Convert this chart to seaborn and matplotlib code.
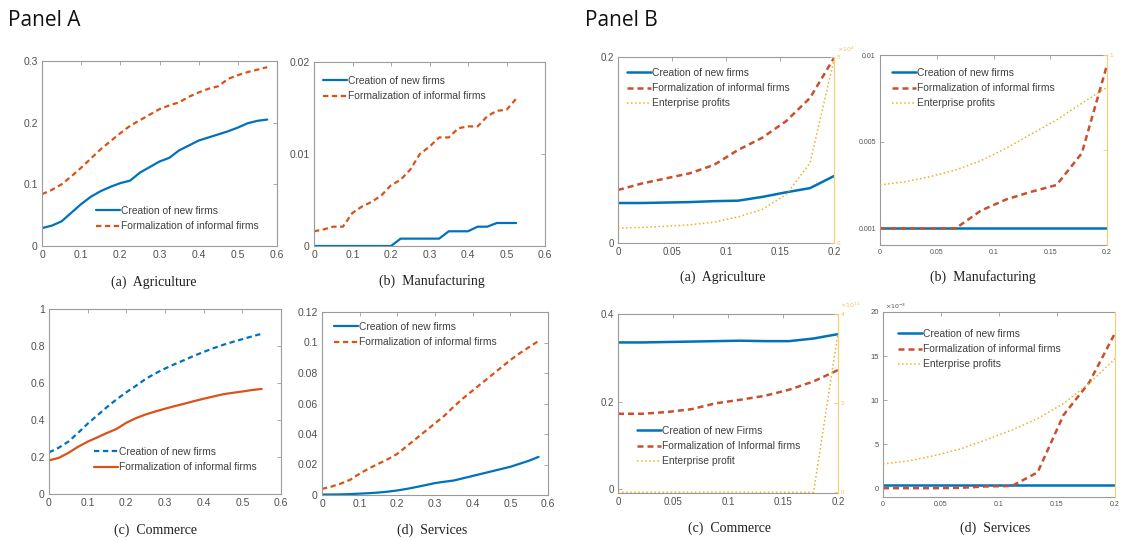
import matplotlib
matplotlib.use('Agg')
import matplotlib.pyplot as plt
import matplotlib.ticker as mticker
import seaborn as sns

# ---- Panel A data (x = policy intensity) ----
x_a = [0.0, 0.025, 0.05, 0.075, 0.1, 0.125, 0.15, 0.175, 0.2, 0.225, 0.25, 0.275,
       0.3, 0.325, 0.35, 0.375, 0.4, 0.425, 0.45, 0.475, 0.5, 0.525, 0.55, 0.575]

agri_creation = [0.029, 0.033, 0.040, 0.054, 0.068, 0.080, 0.089, 0.096, 0.102, 0.106, 0.119, 0.128,
                 0.137, 0.143, 0.155, 0.163, 0.171, 0.176, 0.181, 0.186, 0.192, 0.199, 0.203, 0.205]
agri_formal = [0.084, 0.091, 0.100, 0.113, 0.127, 0.142, 0.157, 0.170, 0.183, 0.195, 0.204, 0.213,
               0.222, 0.228, 0.233, 0.242, 0.249, 0.255, 0.259, 0.271, 0.277, 0.282, 0.286, 0.290]

manu_creation = [0, 0, 0, 0, 0, 0, 0, 0, 0, 0.0008, 0.0008, 0.0008,
                 0.0008, 0.0008, 0.0016, 0.0016, 0.0016, 0.0021, 0.0021, 0.0025, 0.0025, 0.0025]
manu_formal = [0.0016, 0.0018, 0.0021, 0.0021, 0.0036, 0.0043, 0.0048, 0.0055, 0.0066, 0.0072, 0.0083, 0.0100,
               0.0108, 0.0118, 0.0118, 0.0128, 0.0130, 0.0130, 0.0141, 0.0147, 0.0148, 0.0160]

comm_creation = [0.225, 0.250, 0.283, 0.330, 0.380, 0.425, 0.470, 0.512, 0.550, 0.585, 0.622, 0.652,
                 0.678, 0.702, 0.724, 0.747, 0.768, 0.788, 0.806, 0.822, 0.837, 0.852, 0.866]
comm_formal = [0.182, 0.195, 0.222, 0.255, 0.283, 0.306, 0.330, 0.352, 0.385, 0.410, 0.430, 0.446,
               0.461, 0.475, 0.488, 0.502, 0.515, 0.527, 0.539, 0.547, 0.554, 0.562, 0.568]

serv_creation = [0.0003, 0.0003, 0.0004, 0.0006, 0.0009, 0.0012, 0.0016, 0.0022, 0.003, 0.004, 0.0052, 0.0065,
                 0.0078, 0.0087, 0.0095, 0.011, 0.0125, 0.014, 0.0155, 0.017, 0.0185, 0.0205, 0.0225, 0.025]
serv_formal = [0.004, 0.0055, 0.0075, 0.010, 0.014, 0.0175, 0.0205, 0.0235, 0.027, 0.032, 0.037, 0.042,
               0.047, 0.052, 0.058, 0.0635, 0.0685, 0.0735, 0.0785, 0.0835, 0.0885, 0.093, 0.097, 0.101]

# ---- Panel B data ----
x_b = [0.0, 0.0222, 0.0444, 0.0667, 0.0889, 0.1111, 0.1333, 0.1556, 0.1778, 0.2]

b_agri_creation = [0.043, 0.043, 0.0435, 0.044, 0.045, 0.0455, 0.0495, 0.0545, 0.059, 0.072]
b_agri_formal = [0.057, 0.064, 0.0695, 0.075, 0.084, 0.100, 0.113, 0.131, 0.156, 0.199]
b_agri_profit = [0.40, 0.42, 0.45, 0.49, 0.56, 0.70, 0.90, 1.30, 2.15, 4.93]  # x10^4

b_manu_creation = [0.001, 0.001, 0.001, 0.001, 0.001, 0.001, 0.001, 0.001, 0.001, 0.001]
b_manu_formal = [0.001, 0.001, 0.001, 0.001, 0.00192, 0.0025, 0.0029, 0.00325, 0.0049, 0.00948]
b_manu_profit = [0.316, 0.333, 0.360, 0.395, 0.444, 0.509, 0.584, 0.658, 0.746, 0.830]

b_comm_creation = [0.335, 0.335, 0.336, 0.337, 0.338, 0.339, 0.338, 0.338, 0.344, 0.354]
b_comm_formal = [0.172, 0.172, 0.176, 0.1825, 0.196, 0.204, 0.213, 0.227, 0.246, 0.272]
b_comm_profit = [0, 0, 0, 0, 0, 0, 0, 0, 0, 3.57]  # x10^11

b_serv_creation = [0.4, 0.4, 0.4, 0.4, 0.4, 0.4, 0.4, 0.4, 0.4, 0.4]  # x10^-3
b_serv_formal = [0, 0, 0, 0.04, 0.2, 0.25, 1.8, 8.3, 12.0, 17.6]
b_serv_profit = [2.75, 3.1, 3.7, 4.45, 5.5, 6.6, 7.9, 9.6, 11.9, 14.7]

lbl_creation = 'Creation of new firms'
lbl_formal = 'Formalization of informal firms'
lbl_profit = 'Enterprise profits'

BLUE = '#0072BD'
ORANGE = '#D95319'
RED = '#C8502E'
YELLOW = '#EDB120'
EDGE = '#9a9a9a'
TXT = '#505050'
DASH = (0, (2.4, 1.6))

sns.set_style('white')
plt.rcParams['font.family'] = ['Liberation Sans', 'DejaVu Sans']

W, H = 1121, 541
fig = plt.figure(figsize=(W / 100, H / 100), dpi=100)


def add_axes(l, t, r, b):
    return fig.add_axes([l / W, 1 - b / H, (r - l) / W, (b - t) / H])


def style_box(ax, fs, mirror=True):
    for s in ax.spines.values():
        s.set_visible(True)
        s.set_color(EDGE)
        s.set_linewidth(0.8)
    ax.tick_params(direction='in', length=3, width=0.6, color=EDGE, labelcolor=TXT,
                   labelsize=fs, top=mirror, right=mirror, pad=3)
    ax.xaxis.set_major_formatter(mticker.FormatStrFormatter('%g'))
    ax.yaxis.set_major_formatter(mticker.FormatStrFormatter('%g'))
    ax.set_xlabel('')
    ax.set_ylabel('')


def put_legend(ax, handles, labels, x, y):
    leg = ax.legend(handles, labels, loc='upper left', bbox_to_anchor=(x / W, 1 - y / H),
                    bbox_transform=fig.transFigure, frameon=False, fontsize=7.4,
                    handlelength=2.3, handletextpad=0.1, labelspacing=0.5,
                    borderpad=0, borderaxespad=0)
    for t in leg.get_texts():
        t.set_color('#404040')


def yellow_twin(ax, ylim, ticks, ticklabels, fs):
    tw = ax.twinx()
    tw.set_ylim(*ylim)
    for s in tw.spines.values():
        s.set_visible(False)
    tw.spines['right'].set_visible(True)
    tw.spines['right'].set_color('#F3D27A')
    tw.spines['right'].set_linewidth(0.9)
    ax.spines['right'].set_visible(False)
    ax.tick_params(right=False)
    tw.set_yticks(ticks)
    tw.set_yticklabels(ticklabels)
    tw.tick_params(direction='in', length=3, width=0.6, color='#F3D27A',
                   labelcolor='#F0C25A', labelsize=fs, pad=2)
    return tw


def merge_legend(ax, tw, x, y):
    h1, l1 = ax.get_legend_handles_labels()
    h2, l2 = tw.get_legend_handles_labels()
    for a in (ax, tw):
        if a.get_legend():
            a.get_legend().remove()
    tw.set_ylabel('')
    put_legend(tw, h1 + h2, l1 + l2, x, y)


def caption(x, y, s):
    fig.text(x / W, 1 - y / H, s, ha='center', va='center', fontsize=10,
             family=['Liberation Serif', 'DejaVu Serif'], color='#202020')


fig.text(8 / W, 1 - 20 / H, 'Panel A', ha='left', va='center', fontsize=15,
         family=['Open Sans', 'DejaVu Sans'], color='#111111')
fig.text(585 / W, 1 - 20 / H, 'Panel B', ha='left', va='center', fontsize=15,
         family=['Open Sans', 'DejaVu Sans'], color='#111111')

x_ticks_a = [0, 0.1, 0.2, 0.3, 0.4, 0.5, 0.6]
x_ticks_b = [0, 0.05, 0.1, 0.15, 0.2]

# ---------------- Panel A ----------------
# (a) Agriculture
ax = add_axes(42, 61, 277, 246)
sns.lineplot(x=x_a, y=agri_creation, ax=ax, color=BLUE, lw=1.6, label=lbl_creation)
sns.lineplot(x=x_a, y=agri_formal, ax=ax, color=ORANGE, lw=1.6, linestyle=DASH, label=lbl_formal)
ax.set_xlim(0, 0.6)
ax.set_ylim(0, 0.3)
ax.set_xticks(x_ticks_a)
ax.set_yticks([0, 0.1, 0.2, 0.3])
style_box(ax, 7.5)
put_legend(ax, *ax.get_legend_handles_labels(), 96, 206)
caption(154, 282, '(a)  Agriculture')

# (b) Manufacturing
ax = add_axes(314, 62, 545, 246)
sns.lineplot(x=x_a[:22], y=manu_creation, ax=ax, color=BLUE, lw=1.6, label=lbl_creation)
sns.lineplot(x=x_a[:22], y=manu_formal, ax=ax, color=ORANGE, lw=1.6, linestyle=DASH, label=lbl_formal)
ax.set_xlim(0, 0.6)
ax.set_ylim(0, 0.02)
ax.set_xticks(x_ticks_a)
ax.set_yticks([0, 0.01, 0.02])
style_box(ax, 7.5)
put_legend(ax, *ax.get_legend_handles_labels(), 323, 76)
caption(432, 281, '(b)  Manufacturing')

# (c) Commerce
ax = add_axes(49, 309, 281, 494)
sns.lineplot(x=x_a[:23], y=comm_creation, ax=ax, color=BLUE, lw=1.6, linestyle=DASH, label=lbl_creation)
sns.lineplot(x=x_a[:23], y=comm_formal, ax=ax, color=ORANGE, lw=1.6, label=lbl_formal)
ax.set_xlim(0, 0.6)
ax.set_ylim(0, 1)
ax.set_xticks(x_ticks_a)
ax.set_yticks([0, 0.2, 0.4, 0.6, 0.8, 1])
style_box(ax, 7.5)
put_legend(ax, *ax.get_legend_handles_labels(), 94, 447)
caption(156, 530, '(c)  Commerce')

# (d) Services
ax = add_axes(322, 312, 548, 495)
sns.lineplot(x=x_a, y=serv_creation, ax=ax, color=BLUE, lw=1.6, label=lbl_creation)
sns.lineplot(x=x_a, y=serv_formal, ax=ax, color=ORANGE, lw=1.6, linestyle=DASH, label=lbl_formal)
ax.set_xlim(0, 0.6)
ax.set_ylim(0, 0.12)
ax.set_xticks(x_ticks_a)
ax.set_yticks([0, 0.02, 0.04, 0.06, 0.08, 0.1, 0.12])
style_box(ax, 7.5)
put_legend(ax, *ax.get_legend_handles_labels(), 334, 322)
caption(432, 530, '(d)  Services')

# ---------------- Panel B ----------------
# (a) Agriculture
ax = add_axes(618, 57, 834, 243)
sns.lineplot(x=x_b, y=b_agri_creation, ax=ax, color=BLUE, lw=1.8, label=lbl_creation)
sns.lineplot(x=x_b, y=b_agri_formal, ax=ax, color=RED, lw=1.8, linestyle=DASH, label=lbl_formal)
ax.set_xlim(0, 0.2)
ax.set_ylim(0, 0.2)
ax.set_xticks(x_ticks_b)
ax.set_yticks([0, 0.2])
style_box(ax, 7)
tw = yellow_twin(ax, (0, 5), [0, 5], ['0', '5'], 4.5)
sns.lineplot(x=x_b, y=b_agri_profit, ax=tw, color=YELLOW, lw=1.1, linestyle=':', label=lbl_profit)
merge_legend(ax, tw, 627, 68)
fig.text(837 / W, 1 - 49 / H, r'$\times 10^{4}$', fontsize=4.5, color='#F0C25A', va='center')
caption(723, 277, '(a)  Agriculture')

# (b) Manufacturing
ax = add_axes(880, 55, 1107, 245)
sns.lineplot(x=x_b, y=b_manu_creation, ax=ax, color=BLUE, lw=1.8, label=lbl_creation)
sns.lineplot(x=x_b, y=b_manu_formal, ax=ax, color=RED, lw=1.8, linestyle=DASH, label=lbl_formal)
ax.set_xlim(0, 0.2)
ax.set_ylim(0.000135, 0.01)
ax.set_xticks(x_ticks_b)
ax.set_yticks([0.001, 0.0055, 0.01])
style_box(ax, 5)
ax.set_yticklabels(['0.001', '0.005', '0.01'])
tw = yellow_twin(ax, (0, 1), [0.5, 1], ['', '1'], 4.5)
sns.lineplot(x=x_b, y=b_manu_profit, ax=tw, color=YELLOW, lw=1.1, linestyle=':', label=lbl_profit)
merge_legend(ax, tw, 892, 68)
caption(983, 277, '(b)  Manufacturing')

# (c) Commerce
ax = add_axes(618, 314, 838, 493)
sns.lineplot(x=x_b, y=b_comm_creation, ax=ax, color=BLUE, lw=1.8, label='Creation of new Firms')
sns.lineplot(x=x_b, y=b_comm_formal, ax=ax, color=RED, lw=1.8, linestyle=DASH, label='Formalization of Informal firms')
ax.set_xlim(0, 0.2)
ax.set_ylim(-0.009, 0.4)
ax.set_xticks(x_ticks_b)
ax.set_yticks([0, 0.2, 0.4])
style_box(ax, 7)
tw = yellow_twin(ax, (-0.015, 4), [0, 2, 4], ['0', '2', '4'], 4.5)
sns.lineplot(x=x_b, y=b_comm_profit, ax=tw, color=YELLOW, lw=1.1, linestyle=':', label='Enterprise profit')
merge_legend(ax, tw, 637, 426)
fig.text(840 / W, 1 - 305 / H, r'$\times 10^{11}$', fontsize=4.5, color='#F0C25A', va='center')
caption(729, 528, '(c)  Commerce')

# (d) Services
ax = add_axes(883, 312, 1115, 497)
sns.lineplot(x=x_b, y=b_serv_creation, ax=ax, color=BLUE, lw=1.8, label=lbl_creation)
sns.lineplot(x=x_b, y=b_serv_formal, ax=ax, color=RED, lw=1.8, linestyle=DASH, label=lbl_formal)
ax.set_xlim(0, 0.2)
ax.set_ylim(-1, 20)
ax.set_xticks(x_ticks_b)
ax.set_yticks([0, 5, 10, 15, 20])
style_box(ax, 5.5)
ax.tick_params(axis='x', labelsize=5)
tw = yellow_twin(ax, (-1, 20), [], [], 4.5)
sns.lineplot(x=x_b, y=b_serv_profit, ax=tw, color=YELLOW, lw=1.1, linestyle=':', label=lbl_profit)
merge_legend(ax, tw, 898, 329)
fig.text(885 / W, 1 - 306 / H, r'$\times 10^{-3}$', fontsize=4.5, color=TXT, va='center')
caption(995, 528, '(d)  Services')

fig.savefig('out.png', dpi=100, facecolor='white')
